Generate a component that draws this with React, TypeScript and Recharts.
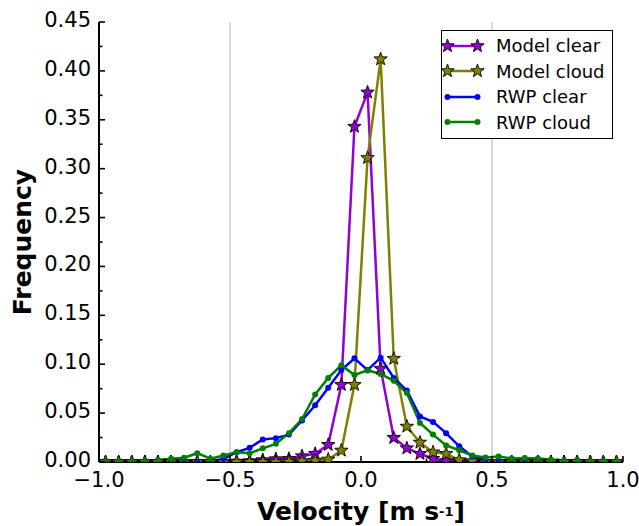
import React from 'react';
import { LineChart, Line, XAxis, YAxis, ReferenceLine, Legend } from 'recharts';

// Bin centres of the velocity histogram (m s-1)
const velocityBins = [
  -0.975, -0.925, -0.875, -0.825, -0.775, -0.725, -0.675, -0.625, -0.575, -0.525,
  -0.475, -0.425, -0.375, -0.325, -0.275, -0.225, -0.175, -0.125, -0.075, -0.025,
  0.025, 0.075, 0.125, 0.175, 0.225, 0.275, 0.325, 0.375, 0.425, 0.475,
  0.525, 0.575, 0.625, 0.675, 0.725, 0.775, 0.825, 0.875, 0.925, 0.975,
];

const modelClear = [
  0, 0, 0, 0, 0, 0, 0, 0, 0, 0,
  0.0005, 0.001, 0.002, 0.003, 0.0033, 0.006, 0.0084, 0.0176, 0.079, 0.343,
  0.378, 0.0954, 0.0248, 0.0141, 0.0084, 0.0033, 0.001, 0.0005, 0, 0,
  0, 0, 0, 0, 0, 0, 0, 0, 0, 0,
];

const modelCloud = [
  0, 0, 0, 0, 0, 0, 0, 0, 0, 0,
  0, 0, 0, 0, 0.0005, 0.001, 0.0015, 0.0026, 0.0118, 0.079,
  0.311, 0.412, 0.1057, 0.0363, 0.02, 0.01, 0.0084, 0.002, 0.001, 0,
  0, 0, 0, 0, 0, 0, 0, 0, 0, 0,
];

const rwpClear = [
  0, 0, 0, 0, 0, 0, 0, 0, 0.001, 0.003,
  0.01, 0.0145, 0.023, 0.0244, 0.028, 0.0425, 0.058, 0.076, 0.094, 0.106,
  0.094, 0.1067, 0.086, 0.073, 0.0466, 0.041, 0.0295, 0.016, 0.0056, 0.002,
  0.001, 0, 0, 0, 0, 0, 0, 0, 0, 0,
];

const rwpCloud = [
  0.0005, 0.0005, 0.0005, 0.001, 0.002, 0.0033, 0.0043, 0.009, 0.0033, 0.0067,
  0.01, 0.009, 0.014, 0.0186, 0.0295, 0.044, 0.069, 0.086, 0.099, 0.089,
  0.0937, 0.09, 0.083, 0.0705, 0.04, 0.028, 0.017, 0.012, 0.0067, 0.0045,
  0.0055, 0.0035, 0.004, 0.0035, 0.0025, 0.0015, 0.002, 0.001, 0.001, 0.001,
];

const seriesNames = ['Model clear', 'Model cloud', 'RWP clear', 'RWP cloud'];
const seriesColors = ['#9400d3', '#808000', '#0000ff', '#008000'];

const xTicks = [-1, -0.75, -0.5, -0.25, 0, 0.25, 0.5, 0.75, 1];
const yTicks = [
  0, 0.025, 0.05, 0.075, 0.1, 0.125, 0.15, 0.175, 0.2, 0.225,
  0.25, 0.275, 0.3, 0.325, 0.35, 0.375, 0.4, 0.425, 0.45,
];
const gridLinesX = [-0.5, 0.5];

const data = velocityBins.map((v, i) => ({
  v,
  mc: modelClear[i],
  mcl: modelCloud[i],
  rc: rwpClear[i],
  rcl: rwpCloud[i],
}));

const FONT = 'DejaVu Sans';
const isMajorX = (v: number) => Math.abs(v * 2 - Math.round(v * 2)) < 1e-6;
const isMajorY = (v: number) => Math.abs(v * 20 - Math.round(v * 20)) < 1e-6;
const fmtX = (v: number) => v.toFixed(1).replace('-', '\u2212');
const fmtY = (v: number) => v.toFixed(2);

const BottomTick = (props: any) => {
  const { x, y, payload } = props;
  const major = isMajorX(payload.value);
  return (
    <g>
      <line x1={x} x2={x} y1={y} y2={y - (major ? 6 : 3.5)} stroke="#000" strokeWidth={1.6} />
      {major && (
        <text x={x} y={y + 25} textAnchor="middle" fontSize={21} fontFamily={FONT} fill="#000">
          {fmtX(payload.value)}
        </text>
      )}
    </g>
  );
};

const TopTick = (props: any) => {
  const { x, y, payload } = props;
  const major = isMajorX(payload.value);
  return <line x1={x} x2={x} y1={y} y2={y + (major ? 6 : 3.5)} stroke="#000" strokeWidth={1.6} />;
};

const LeftTick = (props: any) => {
  const { x, y, payload } = props;
  const major = isMajorY(payload.value);
  return (
    <g>
      <line x1={x} x2={x + (major ? 6 : 3.5)} y1={y} y2={y} stroke="#000" strokeWidth={1.6} />
      {major && (
        <text x={x - 8} y={y + 5} textAnchor="end" fontSize={21} fontFamily={FONT} fill="#000">
          {fmtY(payload.value)}
        </text>
      )}
    </g>
  );
};

const RightTick = (props: any) => {
  const { x, y, payload } = props;
  const major = isMajorY(payload.value);
  return <line x1={x} x2={x - (major ? 6 : 3.5)} y1={y} y2={y} stroke="#000" strokeWidth={1.6} />;
};

const starPath = (cx: number, cy: number, R: number, r: number) => {
  let d = '';
  for (let k = 0; k < 10; k++) {
    const rad = k % 2 === 0 ? R : r;
    const a = -Math.PI / 2 + (k * Math.PI) / 5;
    d += (k === 0 ? 'M' : 'L') + (cx + rad * Math.cos(a)).toFixed(2) + ',' + (cy + rad * Math.sin(a)).toFixed(2);
  }
  return d + 'Z';
};

const makeStar = (fill: string) => (props: any) => {
  const { cx, cy, index } = props;
  if (cx == null || cy == null) return <g key={index} />;
  return <path key={index} d={starPath(cx, cy, 7, 2.9)} fill={fill} stroke="#000" strokeWidth={0.9} />;
};

const LegendBox = () => (
  <div
    style={{
      width: 172,
      height: 109,
      border: '1.5px solid #000',
      background: '#fff',
      boxSizing: 'border-box',
      fontFamily: FONT,
      fontSize: 18,
      paddingTop: 2,
      color: '#000',
    }}
  >
    {seriesNames.map((name, i) => (
      <div key={name} style={{ display: 'flex', alignItems: 'center', height: 25.5 }}>
        <svg width={54} height={20} style={{ display: 'block' }}>
          <line x1={5.5} x2={35.5} y1={10} y2={10} stroke={seriesColors[i]} strokeWidth={2.5} />
          {i < 2 ? (
            <g>
              <path d={starPath(5.5, 10, 7, 2.9)} fill={seriesColors[i]} stroke="#000" strokeWidth={0.9} />
              <path d={starPath(35.5, 10, 7, 2.9)} fill={seriesColors[i]} stroke="#000" strokeWidth={0.9} />
            </g>
          ) : (
            <g>
              <circle cx={5.5} cy={10} r={3} fill={seriesColors[i]} />
              <circle cx={35.5} cy={10} r={3} fill={seriesColors[i]} />
            </g>
          )}
        </svg>
        <span style={{ whiteSpace: 'nowrap' }}>{name}</span>
      </div>
    ))}
  </div>
);

const YLabel = (props: any) => {
  const { viewBox } = props;
  const cy = 22 + (462 - 22) / 2;
  const cx = viewBox.x + 22;
  return (
    <text
      x={cx}
      y={cy}
      transform={`rotate(-90, ${cx}, ${cy})`}
      textAnchor="middle"
      dominantBaseline="central"
      fontSize={25}
      fontWeight="bold"
      fontFamily={FONT}
      fill="#000"
    >
      Frequency
    </text>
  );
};

const XLabel = (props: any) => {
  const { viewBox } = props;
  const cx = viewBox.x + viewBox.width / 2;
  const y = viewBox.y + 58;
  return (
    <text x={cx} y={y} textAnchor="middle" fontSize={25} fontWeight="bold" fontFamily={FONT} fill="#000">
      Velocity [m s
      <tspan fontSize={13} dy={-4}>-1</tspan>
      <tspan dy={4}>]</tspan>
    </text>
  );
};

export default function App() {
  return (
    <div style={{ position: 'absolute', left: 0, top: 0, width: 639, height: 526, background: '#fff' }}>
      <LineChart
        width={639}
        height={526}
        data={data}
        margin={{ top: 22, right: 16, bottom: 0, left: 0 }}
        style={{ fontFamily: FONT }}
      >
        <XAxis
          xAxisId="b"
          dataKey="v"
          type="number"
          domain={[-1, 1]}
          ticks={xTicks}
          allowDataOverflow
          height={64}
          tickSize={0}
          tickMargin={0}
          tick={<BottomTick />}
          tickLine={false}
          axisLine={{ stroke: '#000', strokeWidth: 2 }}
          interval={0}
          label={<XLabel />}
        />
        <XAxis
          xAxisId="t"
          orientation="top"
          dataKey="v"
          type="number"
          domain={[-1, 1]}
          ticks={xTicks}
          allowDataOverflow
          height={0}
          tickSize={0}
          tickMargin={0}
          tick={<TopTick />}
          tickLine={false}
          axisLine={{ stroke: '#000', strokeWidth: 2 }}
          interval={0}
        />
        <YAxis
          yAxisId="l"
          type="number"
          domain={[0, 0.45]}
          ticks={yTicks}
          allowDataOverflow
          width={99}
          tickSize={0}
          tickMargin={0}
          tick={<LeftTick />}
          tickLine={false}
          axisLine={{ stroke: '#000', strokeWidth: 2 }}
          interval={0}
          label={<YLabel />}
        />
        <YAxis
          yAxisId="r"
          orientation="right"
          type="number"
          domain={[0, 0.45]}
          ticks={yTicks}
          allowDataOverflow
          width={0}
          tickSize={0}
          tickMargin={0}
          tick={<RightTick />}
          tickLine={false}
          axisLine={{ stroke: '#000', strokeWidth: 2 }}
          interval={0}
        />
        {gridLinesX.map((g) => (
          <ReferenceLine key={g} x={g} xAxisId="b" yAxisId="l" stroke="#cccccc" strokeWidth={1.5} />
        ))}
        <Line
          xAxisId="b"
          yAxisId="l"
          type="linear"
          dataKey="mc"
          name={seriesNames[0]}
          stroke={seriesColors[0]}
          strokeWidth={2.5}
          dot={makeStar(seriesColors[0])}
          isAnimationActive={false}
        />
        <Line
          xAxisId="b"
          yAxisId="l"
          type="linear"
          dataKey="mcl"
          name={seriesNames[1]}
          stroke={seriesColors[1]}
          strokeWidth={2.5}
          dot={makeStar(seriesColors[1])}
          isAnimationActive={false}
        />
        <Line
          xAxisId="b"
          yAxisId="l"
          type="linear"
          dataKey="rc"
          name={seriesNames[2]}
          stroke={seriesColors[2]}
          strokeWidth={2.5}
          dot={{ r: 3, fill: seriesColors[2], stroke: seriesColors[2], strokeWidth: 0 }}
          isAnimationActive={false}
        />
        <Line
          xAxisId="b"
          yAxisId="l"
          type="linear"
          dataKey="rcl"
          name={seriesNames[3]}
          stroke={seriesColors[3]}
          strokeWidth={2.5}
          dot={{ r: 3, fill: seriesColors[3], stroke: seriesColors[3], strokeWidth: 0 }}
          isAnimationActive={false}
        />
        <Legend
          layout="horizontal"
          verticalAlign="middle"
          align="center"
          content={<LegendBox />}
          wrapperStyle={{ position: 'absolute', left: 441, top: 30, width: 172, height: 109 }}
        />
      </LineChart>
    </div>
  );
}
